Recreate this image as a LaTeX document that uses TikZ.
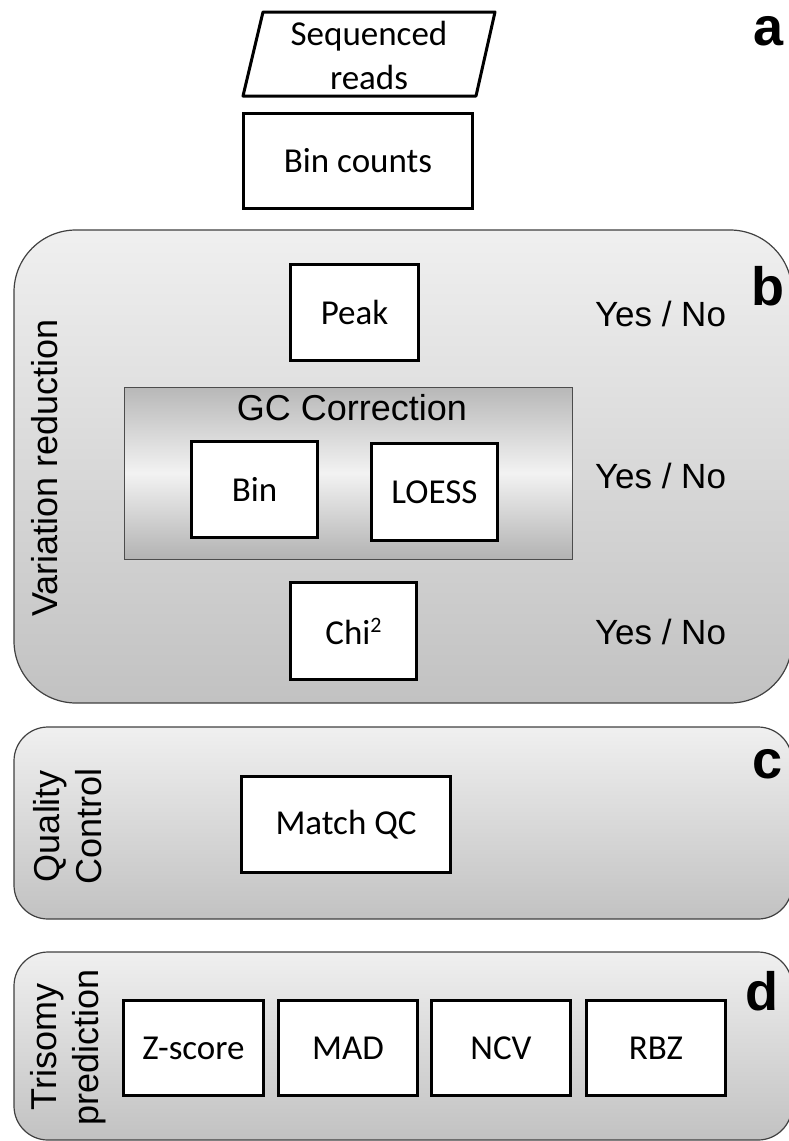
\documentclass[tikz,border=0pt]{standalone}
\usepackage{fontspec}
\setmainfont{Carlito}
\newfontfamily\arialf{Liberation Sans}
\begin{document}
\begin{tikzpicture}[x=1pt,y=-1pt,
  wbox/.style={draw=black, line width=3pt, fill=white, inner sep=0pt,
    font=\fontsize{35}{44}\selectfont},
  panel/.style={draw=black!75, line width=1.2pt, top color=black!6, bottom color=black!24, inner sep=0pt},
  ynlabel/.style={font=\arialf\fontsize{35}{42}\selectfont, inner sep=0pt},
  sidelabel/.style={font=\arialf\fontsize{36}{42}\selectfont, rotate=90, align=center, inner sep=0pt},
  letter/.style={font=\arialf\bfseries\fontsize{54}{54}\selectfont, anchor=base east, inner sep=0pt}]
\useasboundingbox (0,0) rectangle (789,1141);

% panel a
\draw[line width=3pt, line join=round] (263,12) -- (495,12) -- (476,96) -- (243,96) -- cycle;
\node[font=\fontsize{35}{44}\selectfont, align=center, inner sep=0pt] (seq) at (369,55) {Sequenced\\reads};
\node[wbox, minimum width=229pt, minimum height=95pt] (bincounts) at (358,161) {Bin counts};
\node[letter] (la) at (784,45) {a};

% panel b
\node[panel, rounded corners=62pt, minimum width=778pt, minimum height=473pt] (pb) at (403,466.5) {};
\node[letter] (lb) at (785,305) {b};
\node[sidelabel] (vr) at (45,468) {Variation reduction};
\node[wbox, minimum width=128pt, minimum height=96pt] (peak) at (354.5,312.5) {Peak};
\node[draw=black!70, line width=1pt, top color=black!28, bottom color=black!30, middle color=black!5,
  minimum width=448pt, minimum height=172pt] (gc) at (348,473) {};
\node[font=\arialf\fontsize{36}{42}\selectfont, inner sep=0pt] (gct) at (352,408) {GC Correction};
\node[wbox, minimum width=126pt, minimum height=96pt] (bin) at (254.5,489.5) {Bin};
\node[wbox, minimum width=126pt, minimum height=97pt] (loess) at (434.5,492) {LOESS};
\node[wbox, minimum width=126pt, minimum height=97pt] (chi) at (353.5,631) {Chi\raisebox{12pt}{\fontsize{22}{22}\selectfont 2}};
\node[ynlabel] (yn1) at (660.5,314) {Yes / No};
\node[ynlabel] (yn2) at (660.5,476) {Yes / No};
\node[ynlabel] (yn3) at (660.5,632) {Yes / No};

% panel c
\node[panel, rounded corners=34pt, minimum width=778pt, minimum height=192pt] (pc) at (403,823) {};
\node[letter] (lc) at (783,778) {c};
\node[sidelabel] (qc) at (68,826) {Quality\\Control};
\node[wbox, minimum width=209pt, minimum height=96pt] (match) at (346,824.5) {Match QC};

% panel d
\node[panel, rounded corners=34pt, minimum width=778pt, minimum height=188pt] (pd) at (403,1046) {};
\node[letter] (ld) at (779,1010) {d};
\node[sidelabel] (tp) at (68,1047) {Trisomy\\prediction};
\node[wbox, minimum width=140pt, minimum height=95pt] (z) at (193.5,1048) {Z-score};
\node[wbox, minimum width=139pt, minimum height=95pt] (mad) at (348,1048) {MAD};
\node[wbox, minimum width=139pt, minimum height=95pt] (ncv) at (501,1048) {NCV};
\node[wbox, minimum width=139pt, minimum height=95pt] (rbz) at (656,1048) {RBZ};
\end{tikzpicture}
\end{document}
